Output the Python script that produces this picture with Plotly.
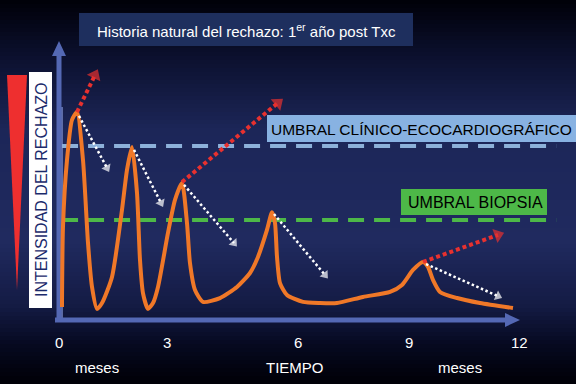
import plotly.graph_objects as go

# ---------------- data ----------------
curve_month = [0.078, 0.104, 0.209, 0.339, 0.470, 0.626, 0.757, 0.861, 0.991, 1.122,
               1.383, 1.643, 1.774, 1.904, 2.035, 2.113, 2.191, 2.322, 2.452, 2.583,
               2.843, 3.026, 3.209, 3.339, 3.417, 3.548, 3.757, 4.200, 4.643, 4.983,
               5.191, 5.426, 5.557, 5.635, 5.687, 5.765, 5.948, 6.365, 6.809, 7.252,
               7.930, 8.635, 8.948, 9.235, 9.496, 9.626, 9.757, 9.939, 10.383, 10.983,
               11.843]
curve_intensity = [4.7, 33.5, 57.6, 72.0, 74.8, 57.6, 27.7, 11.9, 4.0, 6.1,
                   15.5, 39.6, 54.0, 62.2, 45.7, 21.6, 9.7, 4.0, 6.1, 11.9,
                   31.3, 43.2, 49.3, 34.9, 20.5, 10.8, 6.5, 7.9, 11.9, 16.9,
                   22.7, 32.4, 38.8, 34.9, 22.7, 13.3, 9.0, 6.5, 6.1, 6.1,
                   8.3, 10.1, 12.6, 18.0, 20.9, 19.1, 14.4, 10.1, 7.9, 6.1,
                   4.3]

threshold_clinico = 62.6
threshold_biopsia = 36.0
threshold_x = [0.08, 12.97]

# red (worsening) arrows: start/end
red_arrows = [((0.470, 74.8), (0.939, 88.1)),
              ((3.209, 49.6), (5.713, 78.1)),
              ((9.496, 20.9), (11.452, 30.6))]
# white (improving) arrows
white_arrows = [((0.522, 73.4), (1.252, 54.7)),
                ((1.957, 61.2), (2.661, 42.1)),
                ((3.261, 48.6), (4.565, 27.7)),
                ((5.609, 38.1), (6.939, 16.2)),
                ((9.574, 20.1), (11.452, 8.6))]

tick_labels = ["0", "3", "6", "9", "12"]
tick_pos = [0.0, 2.817, 6.235, 9.13, 12.0]

title_text = "Historia natural del rechazo: 1<sup>er</sup> año post Txc"
ylabel = "INTENSIDAD DEL RECHAZO"
label_clinico = "UMBRAL CLÍNICO-ECOCARDIOGRÁFICO"
label_biopsia = "UMBRAL BIOPSIA"

W, H = 576, 384
FONT = "Liberation Sans, Arial, sans-serif"

def px(x):
    return x / W

def py(y):
    return 1 - y / H

fig = go.Figure()

# thresholds
fig.add_trace(go.Scatter(x=threshold_x, y=[threshold_clinico] * 2, mode="lines",
                         line=dict(color="#8db1da", width=4, dash="16px,10px"),
                         hoverinfo="skip", showlegend=False))
fig.add_trace(go.Scatter(x=threshold_x, y=[threshold_biopsia] * 2, mode="lines",
                         line=dict(color="#4db848", width=4, dash="16px,10px"),
                         hoverinfo="skip", showlegend=False))

# curve
fig.add_trace(go.Scatter(x=curve_month, y=curve_intensity, mode="lines",
                         line=dict(color="#f07828", width=4, shape="spline", smoothing=0.6),
                         hoverinfo="skip", showlegend=False))

for (x0, y0), (x1, y1) in red_arrows:
    fig.add_trace(go.Scatter(x=[x0, x1], y=[y0, y1], mode="lines",
                             line=dict(color="#e8312f", width=4, dash="4px,3px"),
                             hoverinfo="skip", showlegend=False))
    fig.add_trace(go.Scatter(x=[x0, x1], y=[y0, y1], mode="markers",
                             marker=dict(symbol="triangle-up", size=[0, 13], color="#e8312f",
                                         angleref="previous", line=dict(width=0)),
                             hoverinfo="skip", showlegend=False))

for (x0, y0), (x1, y1) in white_arrows:
    fig.add_trace(go.Scatter(x=[x0, x1], y=[y0, y1], mode="lines",
                             line=dict(color="#ffffff", width=2.5, dash="2.5px,2.5px"),
                             hoverinfo="skip", showlegend=False))
    fig.add_trace(go.Scatter(x=[x0, x1], y=[y0, y1], mode="markers",
                             marker=dict(symbol="triangle-up", size=[0, 9], color="#ffffff",
                                         angleref="previous", line=dict(width=0)),
                             hoverinfo="skip", showlegend=False))

shapes = []
# background gradient
stops = [(0, (0, 0, 8)), (50, (10, 14, 42)), (130, (28, 38, 88)), (240, (32, 42, 95)),
         (305, (20, 27, 68)), (345, (6, 9, 32)), (384, (0, 0, 6))]

def col(y):
    for (ya, ca), (yb, cb) in zip(stops[:-1], stops[1:]):
        if ya <= y <= yb:
            t = (y - ya) / (yb - ya)
            return "rgb(%d,%d,%d)" % tuple(round(a + (b - a) * t) for a, b in zip(ca, cb))
    return "rgb(0,0,6)"

step = 4
for yy in range(0, H, step):
    shapes.append(dict(type="rect", xref="paper", yref="paper", x0=0, x1=1,
                       y0=py(yy + step), y1=py(yy), fillcolor=col(yy + step / 2),
                       line=dict(width=0), layer="below"))

# title box
shapes.append(dict(type="rect", xref="paper", yref="paper", x0=px(79), x1=px(413),
                   y0=py(46), y1=py(13), fillcolor="#1e2f5e", line=dict(width=0), layer="below"))
# red triangle
shapes.append(dict(type="path", xref="paper", yref="paper",
                   path="M %f,%f L %f,%f L %f,%f Z" % (px(7), py(75), px(27), py(75), px(17), py(290)),
                   fillcolor="#ee2f2f", line=dict(width=0), layer="below"))
# white label box
shapes.append(dict(type="rect", xref="paper", yref="paper", x0=px(29), x1=px(52),
                   y0=py(308), y1=py(72), fillcolor="#ffffff", line=dict(width=0), layer="below"))
# threshold label boxes
shapes.append(dict(type="rect", xref="paper", yref="paper", x0=px(267), x1=px(576),
                   y0=py(142), y1=py(115), fillcolor="#88b2e2", line=dict(width=0), layer="below"))
shapes.append(dict(type="rect", xref="paper", yref="paper", x0=px(401), x1=px(547),
                   y0=py(215), y1=py(189), fillcolor="#4db848", line=dict(width=0), layer="below"))
# thin inner line
shapes.append(dict(type="line", xref="paper", yref="paper", x0=px(62), x1=px(62),
                   y0=py(320), y1=py(107), line=dict(color="#7586c4", width=1.5), layer="below"))
# axes arrows
axc = "#5468b4"
shapes.append(dict(type="line", xref="paper", yref="paper", x0=px(59), x1=px(59),
                   y0=py(322), y1=py(52), line=dict(color=axc, width=5), layer="below"))
shapes.append(dict(type="path", xref="paper", yref="paper",
                   path="M %f,%f L %f,%f L %f,%f Z" % (px(52), py(56), px(66), py(56), px(59), py(41)),
                   fillcolor=axc, line=dict(width=0), layer="below"))
shapes.append(dict(type="line", xref="paper", yref="paper", x0=px(55), x1=px(508),
                   y0=py(320), y1=py(320), line=dict(color=axc, width=5), layer="below"))
shapes.append(dict(type="path", xref="paper", yref="paper",
                   path="M %f,%f L %f,%f L %f,%f Z" % (px(505), py(313), px(505), py(327), px(520), py(320)),
                   fillcolor=axc, line=dict(width=0), layer="below"))

annotations = []
annotations.append(dict(xref="paper", yref="paper", x=px(246), y=py(30), text=title_text,
                        showarrow=False, font=dict(family=FONT, size=15, color="#ffffff"),
                        xanchor="center", yanchor="middle"))
annotations.append(dict(xref="paper", yref="paper", x=px(41), y=py(190), text=ylabel,
                        textangle=-90, showarrow=False,
                        font=dict(family=FONT, size=16, color="#1b2a6b"),
                        xanchor="center", yanchor="middle"))
annotations.append(dict(xref="paper", yref="paper", x=px(421), y=py(129), text=label_clinico,
                        showarrow=False, font=dict(family=FONT, size=15.5, color="#000000"),
                        xanchor="center", yanchor="middle"))
annotations.append(dict(xref="paper", yref="paper", x=px(475), y=py(202), text=label_biopsia,
                        showarrow=False, font=dict(family=FONT, size=16, color="#000000"),
                        xanchor="center", yanchor="middle"))
for t, p in zip(tick_labels, tick_pos):
    annotations.append(dict(xref="x", yref="paper", x=p, y=py(342), text=t, showarrow=False,
                            font=dict(family=FONT, size=15, color="#ffffff"),
                            xanchor="center", yanchor="middle"))
annotations.append(dict(xref="paper", yref="paper", x=px(97), y=py(367), text="meses",
                        showarrow=False, font=dict(family=FONT, size=15, color="#ffffff"),
                        xanchor="center", yanchor="middle"))
annotations.append(dict(xref="paper", yref="paper", x=px(295), y=py(367), text="TIEMPO",
                        showarrow=False, font=dict(family=FONT, size=15, color="#ffffff"),
                        xanchor="center", yanchor="middle"))
annotations.append(dict(xref="paper", yref="paper", x=px(460), y=py(367), text="meses",
                        showarrow=False, font=dict(family=FONT, size=15, color="#ffffff"),
                        xanchor="center", yanchor="middle"))

fig.update_layout(
    width=W, height=H,
    margin=dict(l=0, r=0, t=0, b=0),
    paper_bgcolor="#000008", plot_bgcolor="rgba(0,0,0,0)",
    xaxis=dict(range=[-1.539, 13.487], visible=False, fixedrange=True),
    yaxis=dict(range=[-23.02, 115.1], visible=False, fixedrange=True),
    shapes=shapes, annotations=annotations, showlegend=False,
)

fig.write_html("out.html", config={"displayModeBar": False},
               post_script="document.body.style.margin='0';document.body.style.overflow='hidden';")
